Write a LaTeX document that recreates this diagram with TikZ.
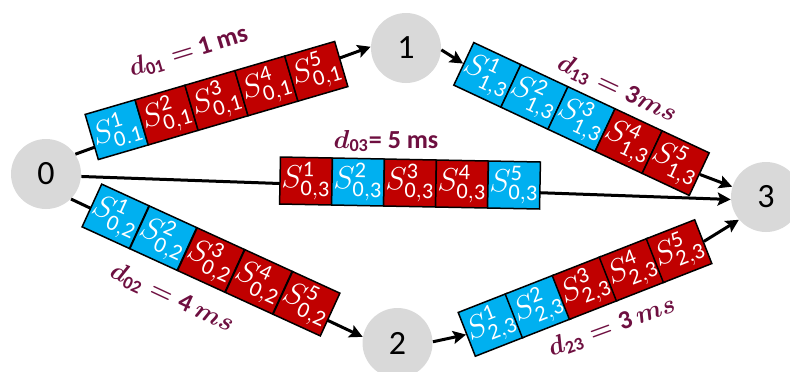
\documentclass[tikz,border=0pt]{standalone}
\usepackage{fix-cm}
\usepackage{fontspec}
\setmainfont{Carlito}
\usetikzlibrary{arrows.meta}

\definecolor{slotcyan}{HTML}{00B0F0}
\definecolor{slotred}{HTML}{C00000}
\definecolor{hopgrey}{HTML}{D9D9D9}
\definecolor{delaytxt}{HTML}{6E0F40}

% tight comma for the slot subscripts
\newcommand\tc{{,}}

\tikzset{
  hop/.style={circle, fill=hopgrey, minimum size=35pt, inner sep=0pt,
    font=\fontsize{17}{20}\selectfont},
  link/.style={line width=1.5pt, -{Stealth[length=6.5pt,width=6.5pt,inset=1.2pt]}},
  slot/.style={draw=black, line width=0.75pt, minimum width=26pt,
    minimum height=23.5pt, inner sep=0pt, text=white,
    font=\fontsize{16}{18}\selectfont, transform shape},
  delay/.style={text=delaytxt, inner sep=0pt,
    font=\fontsize{13}{15}\selectfont\bfseries\boldmath},
}

% a row of five slots: name, centre, angle, pitch, list index/colour/subscript
\newcommand\slotchain[5]{%
  \begin{scope}[shift={#2}, rotate=#3]
    \foreach \k/\c/\s in {#5}{
      \node[slot, fill=\c] (#1\k) at ({(\k-3)*#4},0)
        {$S^{\mathrm{\k}}_{\mathrm{\s}}$};
    }
  \end{scope}}

\begin{document}
\begin{tikzpicture}[x=0.5pt, y=-0.5pt]
  \useasboundingbox (0,0) rectangle (790,371);
  \clip (0,0) rectangle (790,371);

  % network nodes
  \node[hop] (n0) at (46,174) {0};
  \node[hop] (n1) at (406,48) {1};
  \node[hop] (n2) at (397.5,343) {2};
  \node[hop] (n3) at (766,197) {3};

  % links that run straight through their slot rows
  \draw[link] (n0.34.6) -- (n1.178);
  \draw[link] (n0.-45.4) -- (n2.170);
  \draw[link] (n0.-4.3) -- (n3.184.9);

  % slot rows
  \slotchain{a}{(216.5,100.5)}{16.3}{52}{1/slotcyan/0.1, 2/slotred/0\tc1, 3/slotred/0\tc1, 4/slotred/0\tc1, 5/slotred/0\tc1}
  \slotchain{b}{(211,260)}{-24.6}{52.5}{1/slotcyan/0\tc2, 2/slotcyan/0\tc2, 3/slotred/0\tc2, 4/slotred/0\tc2, 5/slotred/0\tc2}
  \slotchain{c}{(410,183)}{-1.1}{52}{1/slotred/0\tc3, 2/slotcyan/0\tc3, 3/slotred/0\tc3, 4/slotred/0\tc3, 5/slotcyan/0\tc3}
  \slotchain{d}{(581.5,119)}{-25.1}{52}{1/slotcyan/1\tc3, 2/slotcyan/1\tc3, 3/slotcyan/1\tc3, 4/slotred/1\tc3, 5/slotred/1\tc3}
  \slotchain{e}{(585,288)}{21.4}{50.5}{1/slotcyan/2\tc3, 2/slotcyan/2\tc3, 3/slotred/2\tc3, 4/slotred/2\tc3, 5/slotred/2\tc3}

  % links entering and leaving the slot rows
  \draw[link] (n1.-3) -- (d1.west);
  \draw[link] (d5.east) -- (n3.163);
  \draw[link] (n2.2) -- (e1.west);
  \draw[link] (e5.east) -- (n3.220);

  % delay labels
  \node[delay, rotate=17] (l01) at (188.5,52) {$d_{\mathrm{01}} =$ 1 ms};
  \node[delay] (l03) at (386,141) {$d_{\mathrm{03}}$= 5 ms};
  \node[delay, rotate=-25] (l13) at (617,89) {$d_{\mathrm{13}} = \mathrm{3}ms$};
  \node[delay, rotate=-25] (l02) at (172,298) {$d_{\mathrm{02}} = \mathrm{4}\,ms$};
  \node[delay, rotate=20] (l23) at (612,327) {$d_{\mathrm{23}} = \mathrm{3}\,ms$};
\end{tikzpicture}
\end{document}
